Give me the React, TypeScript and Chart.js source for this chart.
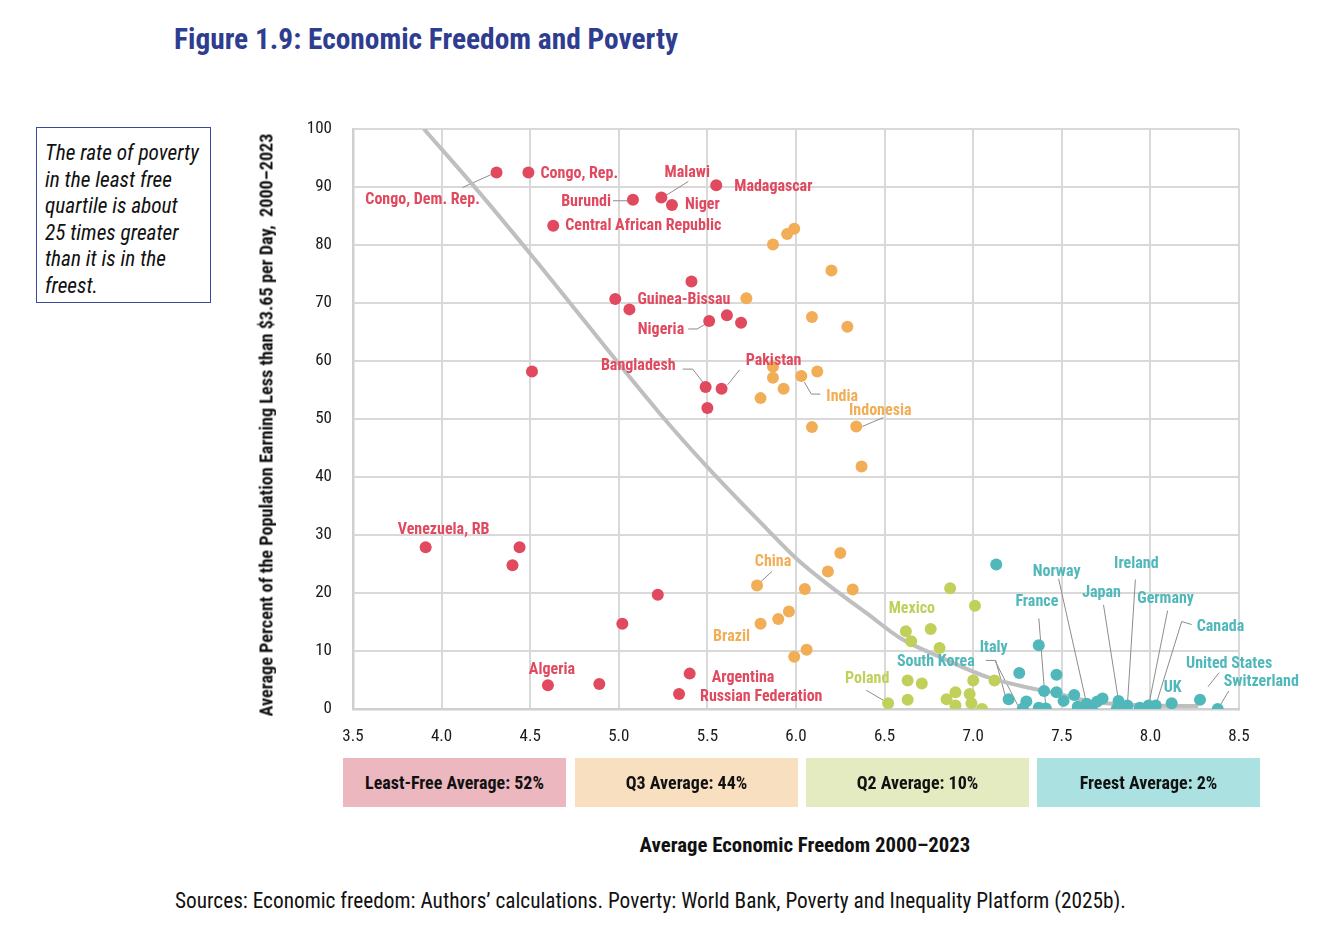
import React, { useEffect, useRef } from "react";
import { Chart, registerables } from "chart.js";

Chart.register(...registerables);

// ---------- DATA ----------
const X_TICKS = [3.5, 4.0, 4.5, 5.0, 5.5, 6.0, 6.5, 7.0, 7.5, 8.0, 8.5];
const Y_TICKS = [0, 10, 20, 30, 40, 50, 60, 70, 80, 90, 100];

const SERIES_NAMES = ["Least free", "Q3", "Q2", "Freest"];

const leastFreeX = [4.31, 4.49, 5.08, 5.24, 5.3, 5.55, 4.63, 5.41, 4.98, 5.06, 5.51, 5.61, 5.69, 4.51, 5.49, 5.58, 5.5, 3.91, 4.44, 4.4, 5.22, 5.02, 4.6, 4.89, 5.4, 5.34];
const leastFreeY = [92.5, 92.5, 87.8, 88.2, 86.9, 90.3, 83.3, 73.7, 70.7, 68.9, 66.9, 67.9, 66.6, 58.2, 55.5, 55.2, 51.9, 27.9, 27.9, 24.8, 19.7, 14.7, 4.1, 4.3, 6.1, 2.6];
const leastFreeNames = ["Congo, Dem. Rep.", "Congo, Rep.", "Burundi", "Malawi", "Niger", "Madagascar", "Central African Republic", "", "", "Guinea-Bissau", "Nigeria", "", "", "", "Bangladesh", "Pakistan", "", "Venezuela, RB", "", "", "", "", "Algeria", "", "Argentina", "Russian Federation"];

const q3X = [5.99, 5.95, 5.87, 6.2, 5.72, 6.09, 6.29, 5.87, 5.87, 6.03, 6.12, 5.93, 5.8, 6.09, 6.34, 6.37, 5.78, 6.25, 6.18, 6.05, 6.32, 5.96, 5.9, 5.8, 6.06, 5.99];
const q3Y = [82.8, 81.9, 80.1, 75.6, 70.8, 67.6, 65.9, 59.0, 57.1, 57.4, 58.2, 55.2, 53.6, 48.6, 48.7, 41.8, 21.3, 26.9, 23.7, 20.7, 20.6, 16.8, 15.5, 14.7, 10.2, 9.0];
const q3Names = ["", "", "", "", "", "", "", "", "", "India", "", "", "", "", "Indonesia", "", "China", "", "", "", "", "", "", "Brazil", "", ""];

const q2X = [6.87, 7.01, 6.62, 6.76, 6.65, 6.81, 6.63, 6.71, 6.52, 6.63, 6.85, 6.9, 6.9, 6.98, 6.99, 7.0, 7.05, 7.12];
const q2Y = [20.8, 17.8, 13.4, 13.8, 11.7, 10.5, 4.9, 4.4, 1.0, 1.6, 1.7, 2.9, 0.6, 2.6, 1.0, 4.9, 0.0, 4.9];
const q2Names = ["", "", "Mexico", "", "", "", "", "", "Poland", "", "", "", "", "", "", "", "", ""];

const freestX = [7.13, 7.37, 7.26, 7.47, 7.4, 7.47, 7.57, 7.2, 7.3, 7.51, 7.28, 7.37, 7.41, 7.59, 7.64, 7.67, 7.7, 7.73, 7.82, 7.81, 7.87, 7.94, 7.99, 8.03, 8.12, 8.28, 8.38];
const freestY = [24.9, 11.0, 6.2, 5.9, 3.1, 2.9, 2.4, 1.7, 1.3, 1.4, 0.1, 0.2, 0.1, 0.4, 0.9, 0.1, 1.3, 1.8, 1.4, 0.0, 0.6, 0.2, 0.6, 0.6, 1.0, 1.6, 0.0];
const freestNames = ["", "", "", "", "", "", "", "Italy", "", "", "South Korea", "", "France", "", "Norway", "", "", "", "Japan", "", "Ireland", "", "Germany", "Canada", "UK", "United States", "Switzerland"];

// fitted trend curve
const curveX = [3.9, 4.2, 4.5, 5.23, 5.5, 5.84, 6.0, 6.17, 6.4, 6.59, 6.81, 7.09, 7.37, 7.47, 7.66, 8.0, 8.27];
const curveY = [100, 89.5, 78.5, 51.0, 41.7, 30.9, 26.0, 21.7, 16.5, 12.2, 9.0, 5.4, 3.3, 2.7, 1.3, 0.6, 0.5];

const QUARTILE_LABELS = ["Least-Free Average: 52%", "Q3 Average: 44%", "Q2 Average: 10%", "Freest Average: 2%"];
const NOTE_LINES = ["The rate of poverty", "in the least free", "quartile is about", "25 times greater", "than it is in the", "freest."];

// ---------- STYLE / LAYOUT ----------
const FONT = "'Roboto Condensed', Roboto, sans-serif";
const COLORS = ["#e0495e", "#f1ae57", "#c1d05b", "#50b8ba"];
const BOX_COLORS = ["#edb7c0", "#f8dfc0", "#e4ebc1", "#abe2e1"];
const BOX_LEFT = [343, 575, 806, 1037];

// label placement: [dx, dy, align, leader offsets] relative to the point (px)
const LABEL_LAYOUT: Record<string, [number, number, string, number[][]?]> = {
  "Congo, Dem. Rep.": [-74, 27, "center", [[-34, 15], [-3, 1]]],
  "Congo, Rep.": [12, 1, "left"],
  "Malawi": [26, -24, "center", [[27, -16], [3, -1]]],
  "Madagascar": [18, 2, "left"],
  "Burundi": [-22, 2, "right", [[-20, 1], [-4, 1]]],
  "Niger": [13, 0, "left"],
  "Central African Republic": [12, 0, "left"],
  "Guinea-Bissau": [8, -9, "left"],
  "Nigeria": [-25, 9, "right", [[-21, 8], [-12, 8], [-2, 2]]],
  "Bangladesh": [-30, -21, "right", [[-23, -18], [-13, -18], [-2, -4]]],
  "Pakistan": [52, -28, "center", [[18, -19], [6, -4]]],
  "India": [25, 21, "left", [[3, 6], [10, 18], [19, 18]]],
  "Indonesia": [24, -16, "center", [[6, 0], [27, -9]]],
  "Venezuela, RB": [18, -17, "center"],
  "China": [16, -23, "center", [[4, -4], [15, -14]]],
  "Brazil": [-29, 13, "center"],
  "Algeria": [4, -15, "center"],
  "Argentina": [22, 4, "left"],
  "Russian Federation": [21, 3, "left"],
  "Mexico": [6, -22, "center"],
  "Poland": [-21, -24, "center", [[-22, -13], [-5, -3]]],
  "Italy": [-15, -51, "center", [[-13, -39], [-3, -2]]],
  "South Korea": [-87, -46, "center", [[-37, -48], [-28, -48], [-5, -3]]],
  "France": [-9, -106, "center", [[-7, -90], [0, 0]]],
  "Norway": [-30, -132, "center", [[-28, -125], [0, 0]]],
  "Japan": [-17, -108, "center", [[-15, -96], [0, 0]]],
  "Ireland": [9, -142, "center", [[8, -126], [0, 0]]],
  "Germany": [17, -107, "center", [[19, -95], [0, 0]]],
  "Canada": [41, -79, "left", [[36, -81], [26, -84], [0, 0]]],
  "UK": [1, -15, "center"],
  "United States": [-14, -36, "left", [[19, -27], [8, -13]]],
  "Switzerland": [6, -27, "left", [[11, -18], [2, -3]]],
};

const ALL_NAMES = [leastFreeNames, q3Names, q2Names, freestNames];

const labelPlugin = {
  id: "pointLabels",
  beforeDatasetsDraw(chart: any) {
    const ctx = chart.ctx;
    ctx.save();
    ctx.strokeStyle = "#8c8c8c";
    ctx.lineWidth = 1;
    ALL_NAMES.forEach((names, s) => {
      const meta = chart.getDatasetMeta(s);
      names.forEach((name, i) => {
        if (!name) return;
        const lay = LABEL_LAYOUT[name];
        if (!lay || !lay[3]) return;
        const p = meta.data[i];
        ctx.beginPath();
        lay[3]!.forEach((o, k) => {
          if (k === 0) ctx.moveTo(p.x + o[0], p.y + o[1]);
          else ctx.lineTo(p.x + o[0], p.y + o[1]);
        });
        ctx.stroke();
      });
    });
    ctx.restore();
  },
  afterDatasetsDraw(chart: any) {
    const ctx = chart.ctx;
    ctx.save();
    ctx.font = `condensed bold 16px ${FONT}`;
    ctx.textBaseline = "middle";
    ALL_NAMES.forEach((names, s) => {
      const meta = chart.getDatasetMeta(s);
      ctx.fillStyle = COLORS[s];
      names.forEach((name, i) => {
        if (!name) return;
        const lay = LABEL_LAYOUT[name];
        if (!lay) return;
        const p = meta.data[i];
        ctx.textAlign = lay[2];
        ctx.fillText(name, p.x + lay[0], p.y + lay[1]);
      });
    });
    ctx.restore();
  },
};

function toPoints(xs: number[], ys: number[]) {
  return xs.map((x, i) => ({ x, y: ys[i] }));
}

export default function App() {
  const ref = useRef<HTMLCanvasElement>(null);

  useEffect(() => {
    if (!ref.current) return;
    Chart.defaults.font.family = FONT;
    const scatter = (xs: number[], ys: number[], s: number) => ({
      type: "scatter" as const,
      label: SERIES_NAMES[s],
      data: toPoints(xs, ys),
      backgroundColor: COLORS[s],
      borderWidth: 0,
      pointRadius: 6,
      pointHoverRadius: 6,
      order: 1,
    });
    const tickFont = { size: 17, family: FONT, style: "condensed" as any };
    const chart = new Chart(ref.current, {
      type: "scatter",
      data: {
        datasets: [
          scatter(leastFreeX, leastFreeY, 0),
          scatter(q3X, q3Y, 1),
          scatter(q2X, q2Y, 2),
          scatter(freestX, freestY, 3),
          {
            type: "line" as const,
            label: "Trend",
            data: toPoints(curveX, curveY),
            borderColor: "#bfbfbf",
            borderWidth: 4,
            pointRadius: 0,
            cubicInterpolationMode: "monotone",
            fill: false,
            order: 10,
          } as any,
        ],
      },
      options: {
        animation: false,
        responsive: true,
        maintainAspectRatio: false,
        layout: { padding: { left: 0, top: 129, right: 89, bottom: 0 } },
        plugins: { legend: { display: false }, tooltip: { enabled: false } },
        scales: {
          x: {
            type: "linear",
            min: 3.5,
            max: 8.5,
            afterFit: (s: any) => { s.height = 51; },
            afterBuildTicks: (s: any) => { s.ticks = X_TICKS.map((v) => ({ value: v })); },
            ticks: {
              padding: 18,
              color: "#1a1a1a",
              font: tickFont,
              callback: (v: any) => Number(v).toFixed(1),
              maxRotation: 0,
            },
            grid: { color: "#d9d9d9", lineWidth: 2, drawTicks: false },
            border: { color: "#cfcfcf", width: 2.5 },
          },
          y: {
            type: "linear",
            min: 0,
            max: 100,
            afterFit: (s: any) => { s.width = 353; },
            afterBuildTicks: (s: any) => { s.ticks = Y_TICKS.map((v) => ({ value: v })); },
            ticks: {
              padding: 21,
              color: "#1a1a1a",
              font: tickFont,
            },
            grid: { color: "#d9d9d9", lineWidth: 2, drawTicks: false },
            border: { color: "#cfcfcf", width: 2.5 },
          },
        },
      },
      plugins: [labelPlugin],
    });
    return () => chart.destroy();
  }, []);

  const abs = (o: React.CSSProperties): React.CSSProperties => ({ position: "absolute", ...o });

  return (
    <div style={abs({ left: 0, top: 0, width: 1328, height: 940, background: "#fff", fontFamily: FONT, fontStretch: "condensed", color: "#111" })}>
      <div style={abs({ left: 174, top: 21, fontSize: 29.4, fontWeight: 700, color: "#2e3d8f", whiteSpace: "nowrap", lineHeight: "36px" })}>
        Figure 1.9: Economic Freedom and Poverty
      </div>
      <div
        style={abs({
          left: 36, top: 127, width: 175, height: 176, boxSizing: "border-box",
          border: "1.5px solid #3a4a9f", padding: "12px 4px 0 8px",
          fontStyle: "italic", fontSize: 21.3, lineHeight: "26.6px", color: "#111", whiteSpace: "nowrap",
        })}
      >
        {NOTE_LINES.map((l) => (
          <div key={l}>{l}</div>
        ))}
      </div>
      <div style={abs({ left: 0, top: 0, width: 1328, height: 760 })}>
        <canvas ref={ref} />
      </div>
      <div
        style={abs({
          left: 266, top: 425, transform: "translate(-50%, -50%) rotate(-90deg)",
          whiteSpace: "nowrap", fontWeight: 700, fontSize: 18.2, color: "#111",
        })}
      >
        Average Percent of the Population Earning Less than $3.65 per Day,&nbsp; 2000–2023
      </div>
      {QUARTILE_LABELS.map((t, i) => (
        <div
          key={t}
          style={abs({
            left: BOX_LEFT[i], top: 758, width: 223, height: 49, background: BOX_COLORS[i],
            display: "flex", alignItems: "center", justifyContent: "center",
            fontWeight: 700, fontSize: 18, color: "#111",
          })}
        >
          {t}
        </div>
      ))}
      <div style={abs({ left: 805, top: 845, transform: "translate(-50%, -50%)", whiteSpace: "nowrap", fontWeight: 700, fontSize: 20.8 })}>
        Average Economic Freedom 2000–2023
      </div>
      <div style={abs({ left: 175, top: 888, whiteSpace: "nowrap", fontSize: 21.3 })}>
        Sources: Economic freedom: Authors’ calculations. Poverty: World Bank, Poverty and Inequality Platform (2025b).
      </div>
    </div>
  );
}
